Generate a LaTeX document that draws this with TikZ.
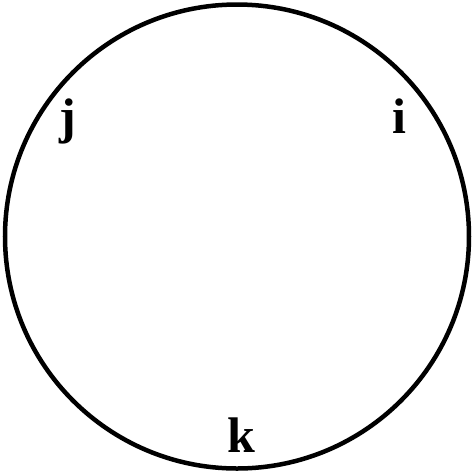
\documentclass[tikz,border=0pt]{standalone}
\usepackage{fontspec}
\setmainfont{Liberation Serif}
\begin{document}
\begin{tikzpicture}[x=1pt,y=-1pt,
  lbl/.style={font=\fontsize{50}{50}\selectfont\bfseries, anchor=base, inner sep=0pt}]
\useasboundingbox (0,0) rectangle (475,475);
\node[draw, circle, line width=4.5pt, minimum size=464pt, inner sep=0pt] (c) at (237,236.5) {};
\node[lbl] (j) at (68,133) {j};
\node[lbl] (i) at (399,133) {i};
\node[lbl] (k) at (241,452) {k};
\end{tikzpicture}
\end{document}
